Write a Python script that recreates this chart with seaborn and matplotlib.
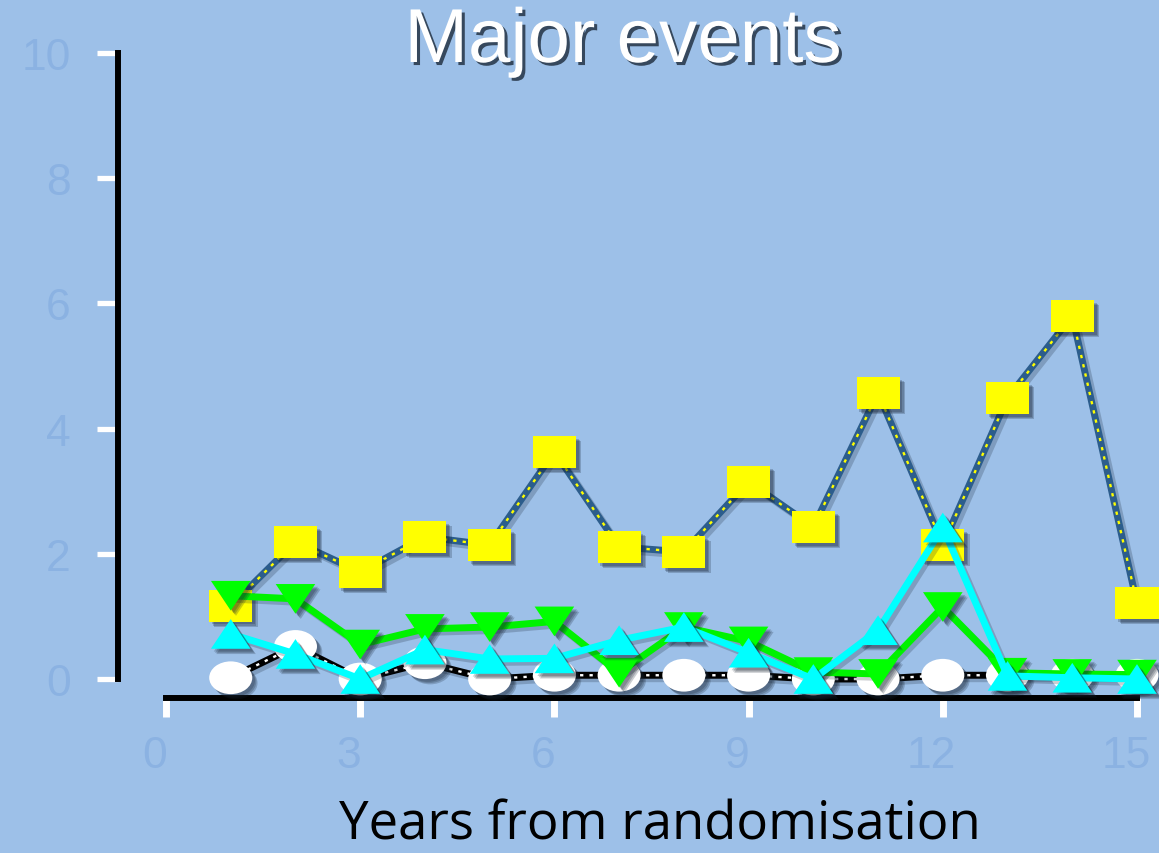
import matplotlib
matplotlib.use("Agg")
import matplotlib.pyplot as plt
import matplotlib.patheffects as pe
import matplotlib.transforms as mtransforms
from matplotlib.path import Path
from matplotlib.markers import MarkerStyle
import pandas as pd
import seaborn as sns

# ---- data -------------------------------------------------------------
years = list(range(1, 16))
square_series = [1.17, 2.19, 1.71, 2.27, 2.14, 3.63, 2.11, 2.03, 3.15, 2.43,
                 4.57, 2.14, 4.49, 5.80, 1.21]
down_series = [1.33, 1.28, 0.55, 0.80, 0.83, 0.92, 0.10, 0.83, 0.60, 0.11,
               0.08, 1.15, 0.10, 0.08, 0.07]
up_series = [0.72, 0.40, 0.00, 0.47, 0.32, 0.33, 0.62, 0.83, 0.42, 0.00,
             0.78, 2.42, 0.05, 0.02, 0.00]
oval_series = [0.02, 0.52, 0.00, 0.26, 0.00, 0.06, 0.06, 0.06, 0.06, 0.00,
               0.00, 0.06, 0.06, 0.06, 0.06]

x_ticks = [0, 3, 6, 9, 12, 15]
y_ticks = [0, 2, 4, 6, 8, 10]

title_text = "Major events"
xlabel_text = "Years from randomisation"

# ---- style ------------------------------------------------------------
BG = "#9dc0e8"
TICK_TEXT = "#8bb2e2"

sns.set_theme(style="ticks")
plt.rcParams["font.family"] = ["Liberation Sans", "DejaVu Sans"]

W, H = 1159, 854
fig = plt.figure(figsize=(W / 100, H / 100), dpi=100, facecolor=BG)
ax = fig.add_axes([166 / W, 174 / H, 971 / W, 626 / H])
ax.set_facecolor(BG)

# custom marker shapes (wider than tall)
rect_path = Path([(-1, -0.74), (1, -0.74), (1, 0.74), (-1, 0.74), (-1, -0.74)],
                 [Path.MOVETO, Path.LINETO, Path.LINETO, Path.LINETO, Path.CLOSEPOLY])
oval_path = Path.unit_circle().transformed(
    mtransforms.Affine2D().scale(1.0, 0.76))
up_path = Path([(0, 0.75), (-1, -0.75), (1, -0.75), (0, 0.75)],
               [Path.MOVETO, Path.LINETO, Path.LINETO, Path.CLOSEPOLY])
down_path = Path([(0, -0.75), (-1, 0.75), (1, 0.75), (0, -0.75)],
                 [Path.MOVETO, Path.LINETO, Path.LINETO, Path.CLOSEPOLY])


def marker_shadow():
    fx = [pe.SimplePatchShadow(offset=(2.0 + 0.9 * i, -(2.0 + 0.9 * i)),
                               shadow_rgbFace="#14202e", alpha=0.22)
          for i in range(3)]
    return fx + [pe.Normal()]


def line_shadow():
    return [pe.SimpleLineShadow(offset=(2.5, -2.5), shadow_color="#14202e", alpha=0.22),
            pe.Normal()]


def draw_series(values, line_color, dot_color, path, size_pt, face, z):
    df = pd.DataFrame({"year": years, "value": values})
    sns.lineplot(data=df, x="year", y="value", color=line_color, lw=5.0,
                 ax=ax, zorder=z, path_effects=line_shadow(), clip_on=False,
                 solid_joinstyle="miter")
    if dot_color is not None:
        sns.lineplot(data=df, x="year", y="value", color=dot_color, lw=1.7,
                     linestyle=(0, (1.4, 2.6)), ax=ax, zorder=z + 0.1,
                     clip_on=False)
    sns.scatterplot(data=df, x="year", y="value", marker=MarkerStyle(path),
                    s=size_pt ** 2, color=face, linewidth=0, ax=ax,
                    zorder=z + 0.2, path_effects=marker_shadow(), clip_on=False)


draw_series(oval_series, "black", "white", oval_path, 31, "white", 5)
draw_series(square_series, "#2c5d8c", "#ffff00", rect_path, 31, "#ffff00", 6)
draw_series(down_series, "#00f200", None, down_path, 28.5, "#00ff00", 7)
draw_series(up_series, "#00ffff", None, up_path, 28.5, "#00ffff", 8)

# ---- axes -------------------------------------------------------------
ax.set_xlim(0, 15)
ax.set_ylim(0, 10)
ax.set_xticks(x_ticks)
ax.set_yticks(y_ticks)
ax.set_xlabel("")
ax.set_ylabel("")
ax.grid(False)

for side in ("top", "right"):
    ax.spines[side].set_visible(False)
ax.spines["left"].set_position(("outward", 34.5))
ax.spines["left"].set_bounds(0, 10)
ax.spines["bottom"].set_position(("outward", 13.7))
ax.spines["bottom"].set_bounds(0, 15)
for side in ("left", "bottom"):
    ax.spines[side].set_color("black")
    ax.spines[side].set_linewidth(4.3)
    ax.spines[side].set_zorder(3)

ax.tick_params(axis="x", direction="out", length=13.5, width=5, color="white",
               pad=13, labelsize=32, labelcolor=TICK_TEXT)
ax.tick_params(axis="y", direction="out", length=15, width=3.8, color="white",
               pad=19, labelsize=32, labelcolor=TICK_TEXT)

# x tick labels sit a little to the left of their ticks
shift = mtransforms.ScaledTranslation(-11 / 100, 0, fig.dpi_scale_trans)
for lab in ax.get_xticklabels():
    lab.set_transform(lab.get_transform() + shift)

# ---- titles -----------------------------------------------------------
fig.text(623 / W, 1 - 63 / H, title_text, ha="center", va="baseline",
         fontsize=55, color="white",
         path_effects=[pe.SimplePatchShadow(offset=(2.2, -2.2), shadow_rgbFace="#1c2a3a",
                                            alpha=0.8), pe.Normal()])
fig.text(660 / W, 14 / H, xlabel_text, ha="center", va="baseline",
         fontsize=38, color="black", family=["Open Sans", "DejaVu Sans"])

fig.savefig("out.png", dpi=100, facecolor=BG)
